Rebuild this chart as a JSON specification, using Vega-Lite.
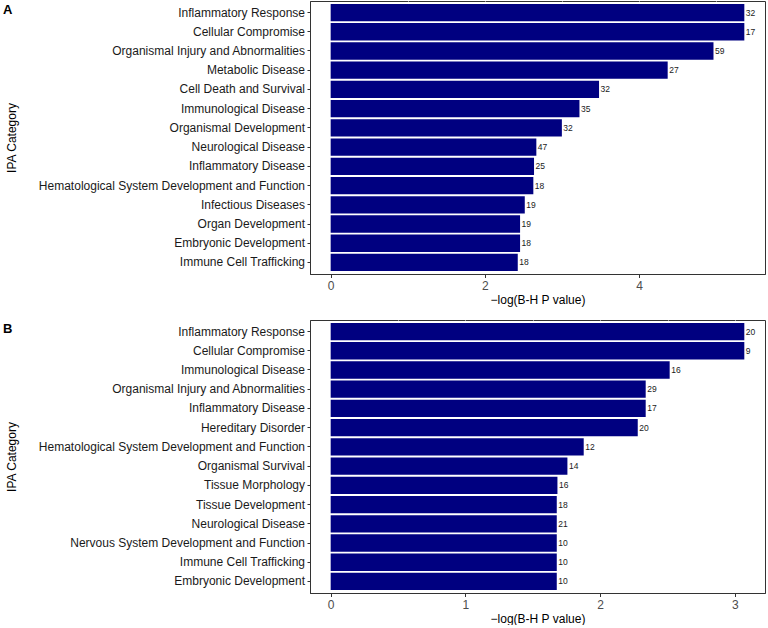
{
  "$schema": "https://vega.github.io/schema/vega-lite/v6.json",
  "padding": {"left": 2, "top": 0, "right": 2, "bottom": 0},
  "background": "white",
  "config": {
    "font": "Liberation Sans",
    "view": {"stroke": "#333333", "strokeWidth": 1},
    "axis": {
      "grid": false,
      "domainColor": "#333333",
      "tickColor": "#333333",
      "labelFont": "Liberation Sans",
      "titleFont": "Liberation Sans",
      "labelFontSize": 12,
      "titleFontSize": 12,
      "titleFontWeight": "normal",
      "titleColor": "#000000",
      "labelLimit": 400
    },
    "axisY": {"labelColor": "#1a1a1a", "tickSize": 3, "labelPadding": 2.5, "titleX": -291.5, "titleY": 136.5, "titleAngle": 270, "titleBaseline": "bottom", "titleAlign": "center"},
    "axisX": {"labelColor": "#4d4d4d", "tickSize": 3.5, "labelPadding": 3, "titlePadding": 3}
  },
  "datasets": {
    "a": [
      {"category": "Inflammatory Response", "value": 5.364, "n": 32},
      {"category": "Cellular Compromise", "value": 5.364, "n": 17},
      {"category": "Organismal Injury and Abnormalities", "value": 4.964, "n": 59},
      {"category": "Metabolic Disease", "value": 4.37, "n": 27},
      {"category": "Cell Death and Survival", "value": 3.48, "n": 32},
      {"category": "Immunological Disease", "value": 3.226, "n": 35},
      {"category": "Organismal Development", "value": 2.998, "n": 32},
      {"category": "Neurological Disease", "value": 2.667, "n": 47},
      {"category": "Inflammatory Disease", "value": 2.637, "n": 25},
      {"category": "Hematological System Development and Function", "value": 2.628, "n": 18},
      {"category": "Infectious Diseases", "value": 2.517, "n": 19},
      {"category": "Organ Development", "value": 2.456, "n": 19},
      {"category": "Embryonic Development", "value": 2.456, "n": 18},
      {"category": "Immune Cell Trafficking", "value": 2.426, "n": 18}
    ],
    "b": [
      {"category": "Inflammatory Response", "value": 3.07, "n": 20},
      {"category": "Cellular Compromise", "value": 3.07, "n": 9},
      {"category": "Immunological Disease", "value": 2.516, "n": 16},
      {"category": "Organismal Injury and Abnormalities", "value": 2.338, "n": 29},
      {"category": "Inflammatory Disease", "value": 2.338, "n": 17},
      {"category": "Hereditary Disorder", "value": 2.279, "n": 20},
      {"category": "Hematological System Development and Function", "value": 1.878, "n": 12},
      {"category": "Organismal Survival", "value": 1.757, "n": 14},
      {"category": "Tissue Morphology", "value": 1.683, "n": 16},
      {"category": "Tissue Development", "value": 1.678, "n": 18},
      {"category": "Neurological Disease", "value": 1.678, "n": 21},
      {"category": "Nervous System Development and Function", "value": 1.678, "n": 10},
      {"category": "Immune Cell Trafficking", "value": 1.678, "n": 10},
      {"category": "Embryonic Development", "value": 1.678, "n": 10}
    ]
  },
  "spacing": 13,
  "resolve": {"scale": {"x": "independent", "y": "independent"}},
  "vconcat": [
    {
      "width": 455,
      "height": 273,
      "data": {"name": "a"},
      "title": {"text": "A", "anchor": "start", "orient": "none", "offset": 0, "dx": -307, "dy": 12.5, "baseline": "alphabetic", "fontSize": 13, "fontWeight": "bold", "font": "Liberation Sans", "color": "#000000"},
      "encoding": {
        "y": {"field": "category", "type": "nominal", "sort": null, "scale": {"paddingInner": 0.1, "paddingOuter": 0.15}, "axis": {"title": "IPA Category"}}
      },
      "resolve": {"axis": {"x": "independent"}},
      "layer": [
        {"mark": {"type": "bar", "color": "#000080"}, "encoding": {"x": {"field": "value", "type": "quantitative", "scale": {"domain": [-0.268, 5.632], "nice": false, "zero": false}, "axis": {"values": [0, 2, 4], "title": "−log(B-H P value)"}}, "x2": {"datum": 0}}},
        {"mark": {"type": "text", "align": "left", "baseline": "middle", "dx": 1.5, "fontSize": 8.5, "color": "#1a1a1a"}, "encoding": {"x": {"field": "value", "type": "quantitative", "axis": {"orient": "top", "values": [1, 2, 3, 4, 5], "grid": true, "gridColor": "#ffffff", "gridWidth": 1, "gridOpacity": 1, "labels": false, "ticks": false, "domain": false, "title": null}}, "text": {"field": "n", "type": "quantitative"}}}
      ]
    },
    {
      "width": 455,
      "height": 273,
      "data": {"name": "b"},
      "title": {"text": "B", "anchor": "start", "orient": "none", "offset": 0, "dx": -307, "dy": 13, "baseline": "alphabetic", "fontSize": 13, "fontWeight": "bold", "font": "Liberation Sans", "color": "#000000"},
      "encoding": {
        "y": {"field": "category", "type": "nominal", "sort": null, "scale": {"paddingInner": 0.1, "paddingOuter": 0.15}, "axis": {"title": "IPA Category"}}
      },
      "resolve": {"axis": {"x": "independent"}},
      "layer": [
        {"mark": {"type": "bar", "color": "#000080"}, "encoding": {"x": {"field": "value", "type": "quantitative", "scale": {"domain": [-0.1535, 3.2235], "nice": false, "zero": false}, "axis": {"values": [0, 1, 2, 3], "title": "−log(B-H P value)"}}, "x2": {"datum": 0}}},
        {"mark": {"type": "text", "align": "left", "baseline": "middle", "dx": 1.5, "fontSize": 8.5, "color": "#1a1a1a"}, "encoding": {"x": {"field": "value", "type": "quantitative", "axis": {"orient": "top", "values": [0.5, 1, 1.5, 2, 2.5, 3], "grid": true, "gridColor": "#ffffff", "gridWidth": 1, "gridOpacity": 1, "labels": false, "ticks": false, "domain": false, "title": null}}, "text": {"field": "n", "type": "quantitative"}}}
      ]
    }
  ]
}
